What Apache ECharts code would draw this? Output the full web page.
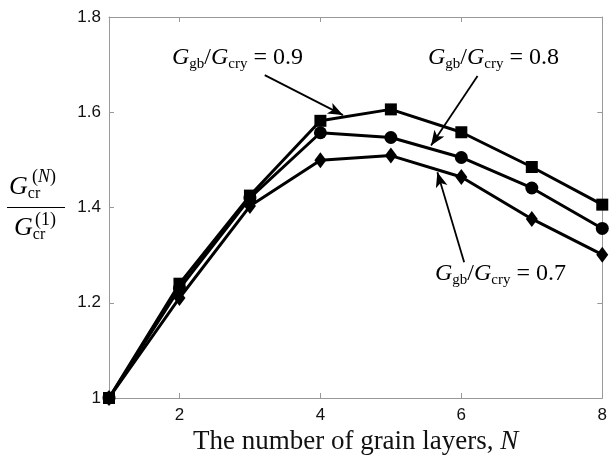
<!DOCTYPE html>
<html><head><meta charset="utf-8">
<script src="https://cdn.jsdelivr.net/npm/echarts@6/dist/echarts.min.js"></script>
<style>html,body{margin:0;padding:0;background:#fff}#c{width:610px;height:461px}</style>
</head><body><div id="c"></div>
<script>
const N = [1, 2, 3, 4, 5, 6, 7, 8];
const ratio09 = [1.0, 1.24, 1.425, 1.582, 1.606, 1.558, 1.485, 1.406];
const ratio08 = [1.0, 1.23, 1.42, 1.557, 1.547, 1.505, 1.441, 1.356];
const ratio07 = [1.0, 1.21, 1.403, 1.499, 1.509, 1.464, 1.376, 1.301];
const xTicks = [2, 4, 6, 8];
const yTicks = [1, 1.2, 1.4, 1.6, 1.8];
// annotation arrows in data coordinates: [from, to]
const arrow09 = [[3.21, 1.678], [4.32, 1.594]];
const arrow08 = [[6.23, 1.676], [5.57, 1.530]];
const arrow07 = [[6.04, 1.285], [5.66, 1.474]];

const serif = 'Liberation Serif';
const sans = 'Liberation Sans';
function pairs(ys){ return N.map((x,i)=>[x, ys[i]]); }
function arrowLine(a){ return [{coord:a[0], symbol:'none'},{coord:a[1], symbol:'arrow'}]; }

const chart = echarts.init(document.getElementById('c'));
const labelRich = {
  g:{fontFamily:serif, fontStyle:'italic', fontSize:24, color:'#000'},
  s:{fontFamily:serif, fontSize:15, color:'#000', padding:[13,0,0,0]},
  n:{fontFamily:serif, fontSize:24, color:'#000'}
};
function ratioLabel(v){ return '{g|G}{s|gb}{n|/}{g|G}{s|cry}{n| = ' + v + '}'; }

const frameAxis = {axisLine:{show:true, lineStyle:{color:'#999', width:1}}, splitLine:{show:false}};
const lineBase = {type:'line', color:'#000', lineStyle:{width:3, color:'#000'}, itemStyle:{color:'#000'}, showSymbol:true, z:3, xAxisIndex:0, yAxisIndex:0};
chart.setOption({
  animation:false,
  grid:{left:109, right:5, top:17, bottom:63},
  xAxis:[{type:'value', min:1, max:8, position:'bottom',
    axisLine:{lineStyle:{color:'#999', width:1}},
    axisTick:{inside:true, length:5, customValues:xTicks, lineStyle:{color:'#999'}},
    axisLabel:{customValues:xTicks, fontFamily:sans, fontSize:17, color:'#111', margin:9},
    splitLine:{show:false},
    name:'{a|The number of grain layers, }{i|N}', nameLocation:'middle', nameGap:30,
    nameTextStyle:{rich:{a:{fontFamily:serif, fontSize:27, color:'#111'}, i:{fontFamily:serif, fontStyle:'italic', fontSize:27, color:'#111'}}}
  },{type:'value', min:1, max:8, position:'top', ...frameAxis,
    axisTick:{inside:true, length:5, customValues:xTicks, lineStyle:{color:'#999'}},
    axisLabel:{show:false}}],
  yAxis:[{type:'value', min:1, max:1.8, interval:0.2,
    axisLine:{lineStyle:{color:'#999', width:1}},
    axisTick:{inside:true, length:5, lineStyle:{color:'#999'}},
    axisLabel:{fontFamily:sans, fontSize:17, color:'#111', margin:8, formatter:v=>String(+v.toFixed(1))},
    splitLine:{show:false}
  },{type:'value', min:1, max:1.8, interval:0.2, position:'right', ...frameAxis,
    axisTick:{inside:true, length:5, lineStyle:{color:'#999'}},
    axisLabel:{show:false}}],
  series:[
    Object.assign({}, lineBase, {name:'0.9', data:pairs(ratio09), symbol:'rect', symbolSize:12,
      markLine:{silent:true, symbolSize:[9,15], label:{show:false}, lineStyle:{color:'#000', width:1.8, type:'solid'},
        data:[arrowLine(arrow09), arrowLine(arrow08), arrowLine(arrow07)]}}),
    Object.assign({}, lineBase, {name:'0.7', data:pairs(ratio07), symbol:'diamond', symbolSize:[12,16]}),
    Object.assign({}, lineBase, {name:'0.8', data:pairs(ratio08), symbol:'circle', symbolSize:13, z:5})
  ],
  graphic:[
    {type:'text', left:172, top:46, style:{text:ratioLabel('0.9'), rich:labelRich}},
    {type:'text', left:428, top:46, style:{text:ratioLabel('0.8'), rich:labelRich}},
    {type:'text', left:435, top:262, style:{text:ratioLabel('0.7'), rich:labelRich}},
    // y-axis fraction label
    {type:'text', left:9, top:174, style:{text:'{g|G}{s|cr}', rich:{g:{fontFamily:serif,fontStyle:'italic',fontSize:26,color:'#000'}, s:{fontFamily:serif,fontSize:16,color:'#000',padding:[13,0,0,0]}}}},
    {type:'text', left:32, top:168, style:{text:'{p|(}{i|N}{p|)}', rich:{p:{fontFamily:serif,fontSize:18,color:'#000'}, i:{fontFamily:serif,fontStyle:'italic',fontSize:18,color:'#000'}}}},
    {type:'line', shape:{x1:7, y1:207.5, x2:65, y2:207.5}, style:{stroke:'#000', lineWidth:1.2}},
    {type:'text', left:14, top:215, style:{text:'{g|G}{s|cr}', rich:{g:{fontFamily:serif,fontStyle:'italic',fontSize:26,color:'#000'}, s:{fontFamily:serif,fontSize:16,color:'#000',padding:[13,0,0,0]}}}},
    {type:'text', left:35, top:211, style:{text:'(1)', font:'18px "Liberation Serif"', fill:'#000'}}
  ]
});
</script></body></html>
